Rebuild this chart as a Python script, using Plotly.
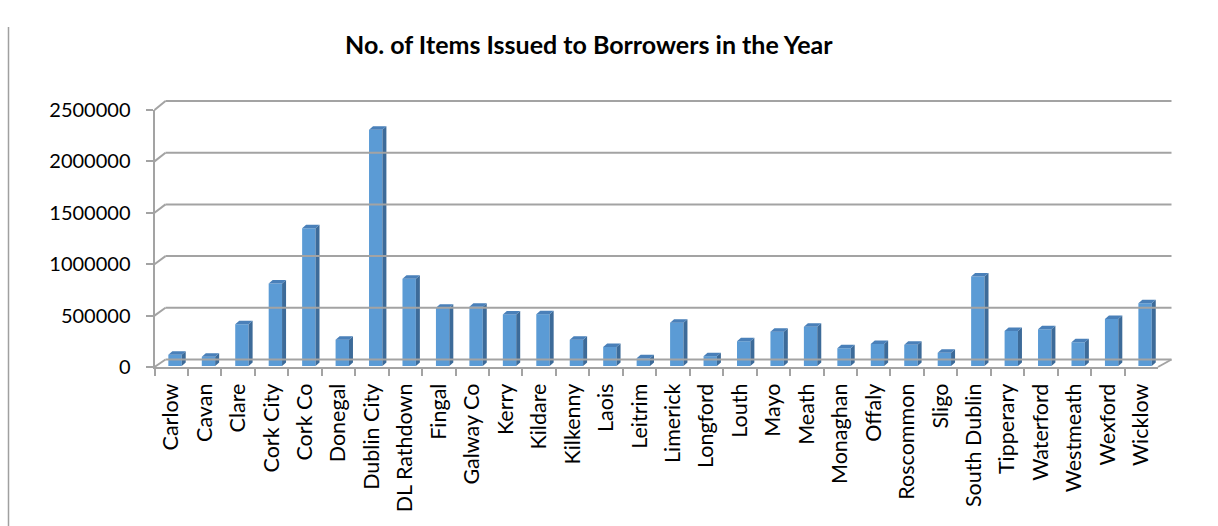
import plotly.graph_objects as go

# ---- data -------------------------------------------------------------
categories = [
    "Carlow", "Cavan", "Clare", "Cork City", "Cork Co", "Donegal",
    "Dublin City", "DL Rathdown", "Fingal", "Galway Co", "Kerry", "Kildare",
    "Kilkenny", "Laois", "Leitrim", "Limerick", "Longford", "Louth", "Mayo",
    "Meath", "Monaghan", "Offaly", "Roscommon", "Sligo", "South Dublin",
    "Tipperary", "Waterford", "Westmeath", "Wexford", "Wicklow",
]
items_issued = [
    110000, 90000, 405000, 800000, 1335000, 255000,
    2290000, 845000, 565000, 575000, 500000, 502000,
    255000, 185000, 75000, 420000, 95000, 240000, 333000,
    380000, 172000, 214000, 205000, 128000, 867000,
    340000, 356000, 230000, 456000, 609000,
]
y_ticks = [0, 500000, 1000000, 1500000, 2000000, 2500000]
title_text = "No. of Items Issued to Borrowers in the Year"

# ---- page geometry (pixels) -------------------------------------------
W, H = 1218, 526
Y_MAX = 2500000

# front plane of the 3-D box (value axis + category axis)
FX0, FX1 = 154.5, 1158.0
FY0, FY1 = 367.0, 110.0
# back wall
BX0, BX1 = 165.5, 1171.5
BY0, BY1 = 359.5, 101.0
# plane of the column front faces
CX0, CX1 = 158.3, 1161.8
CY0, CY1 = 366.0, 108.0

GRID = "#a3a3a3"
FONT = "Lato, 'Open Sans', sans-serif"
FRONT_FACE = "#5b9bd5"
SIDE_FACE = "#3d6b99"
TOP_FACE = "#4a80b9"


def px(x):
    return x / W


def py(y):
    return 1 - y / H


def front_y(v):
    return FY0 + (FY1 - FY0) * v / Y_MAX


def back_y(v):
    return BY0 + (BY1 - BY0) * v / Y_MAX


n = len(categories)
idx = list(range(n))

# column depth, in data units of the column plane
half_w = 0.2
cat_px = (CX1 - CX0) / n
val_px = (CY0 - CY1) / Y_MAX
depth_x = 4.0 / cat_px
depth_y = 3.5 / val_px

side_x, side_y, top_x, top_y = [], [], [], []
for i, v in zip(idx, items_issued):
    r = i + half_w
    l = i - half_w
    side_x += [r, r + depth_x, r + depth_x, r, r, None]
    side_y += [0, depth_y, v + depth_y, v, 0, None]
    top_x += [l, l + depth_x, r + depth_x, r, l, None]
    top_y += [v, v + depth_y, v + depth_y, v, v, None]

fig = go.Figure()

# category axis carrier (front plane)
fig.add_trace(go.Scatter(
    x=categories, y=[0] * n, mode="none", hoverinfo="skip",
    showlegend=False, xaxis="x", yaxis="y",
))

# column side faces and top faces
fig.add_trace(go.Scatter(
    x=side_x, y=side_y, mode="lines", fill="toself", fillcolor=SIDE_FACE,
    line=dict(width=0, color=SIDE_FACE), hoverinfo="skip", showlegend=False,
    xaxis="x2", yaxis="y2",
))
fig.add_trace(go.Scatter(
    x=top_x, y=top_y, mode="lines", fill="toself", fillcolor=TOP_FACE,
    line=dict(width=0, color=TOP_FACE), hoverinfo="skip", showlegend=False,
    xaxis="x2", yaxis="y2",
))
# column front faces
fig.add_trace(go.Bar(
    x=idx, y=items_issued, width=2 * half_w, marker=dict(color=FRONT_FACE, line=dict(width=0)),
    customdata=categories, hovertemplate="%{customdata}: %{y}<extra></extra>",
    showlegend=False, xaxis="x2", yaxis="y2",
))

# ---- 3-D frame: back wall gridlines, side wall and floor edges ----------
shapes = []
for v in y_ticks:
    shapes.append(dict(type="line", xref="paper", yref="paper",
                       x0=px(BX0), x1=px(BX1), y0=py(back_y(v)), y1=py(back_y(v)),
                       line=dict(color=GRID, width=2)))
    shapes.append(dict(type="line", xref="paper", yref="paper",
                       x0=px(FX0), x1=px(BX0), y0=py(front_y(v)), y1=py(back_y(v)),
                       line=dict(color=GRID, width=2)))
# right edge of the floor
shapes.append(dict(type="line", xref="paper", yref="paper",
                   x0=px(FX1), x1=px(BX1), y0=py(front_y(0)), y1=py(back_y(0)),
                   line=dict(color=GRID, width=2)))
# chart area left border
shapes.append(dict(type="line", xref="paper", yref="paper",
                   x0=px(8.5), x1=px(8.5), y0=py(27), y1=0,
                   line=dict(color="#a0a0a0", width=1.5)))

fig.update_layout(
    width=W, height=H, autosize=False,
    margin=dict(l=0, r=0, t=0, b=0, pad=0, autoexpand=False),
    paper_bgcolor="white", plot_bgcolor="rgba(0,0,0,0)",
    showlegend=False,
    shapes=shapes,
    font=dict(family=FONT, color="#000000"),
    xaxis=dict(
        domain=[px(FX0), px(FX1)], anchor="y", type="category",
        categoryorder="array", categoryarray=categories,
        range=[-0.5, n - 0.5], showgrid=False, zeroline=False,
        showline=True, linecolor=GRID, linewidth=2,
        ticks="outside", ticklen=7, tickwidth=1.5, tickcolor=GRID,
        tickson="boundaries", tickangle=-90, automargin=False,
        ticklabelstandoff=6,
        tickfont=dict(family=FONT, size=21.5, color="#000000"),
        fixedrange=True,
    ),
    yaxis=dict(
        domain=[py(FY0), py(FY1)], anchor="x", range=[0, Y_MAX],
        tickvals=y_ticks, tickformat="d", showgrid=False, zeroline=False,
        showline=True, linecolor=GRID, linewidth=2,
        ticks="outside", ticklen=7, tickwidth=1.5, tickcolor=GRID,
        ticklabelstandoff=11, automargin=False,
        tickfont=dict(family=FONT, size=20, color="#000000"),
        fixedrange=True,
    ),
    xaxis2=dict(
        domain=[px(CX0), px(CX1)], anchor="y2", range=[-0.5, n - 0.5],
        visible=False, fixedrange=True, automargin=False,
    ),
    yaxis2=dict(
        domain=[py(CY0), py(CY1)], anchor="x2", range=[0, Y_MAX],
        visible=False, fixedrange=True, automargin=False,
    ),
    annotations=[dict(
        text="<b>" + title_text + "</b>", xref="paper", yref="paper",
        x=px(588.5), y=py(44), xanchor="center", yanchor="middle",
        showarrow=False, font=dict(family=FONT, size=25, color="#000000"),
    )],
)

fig.write_html("out.html")
